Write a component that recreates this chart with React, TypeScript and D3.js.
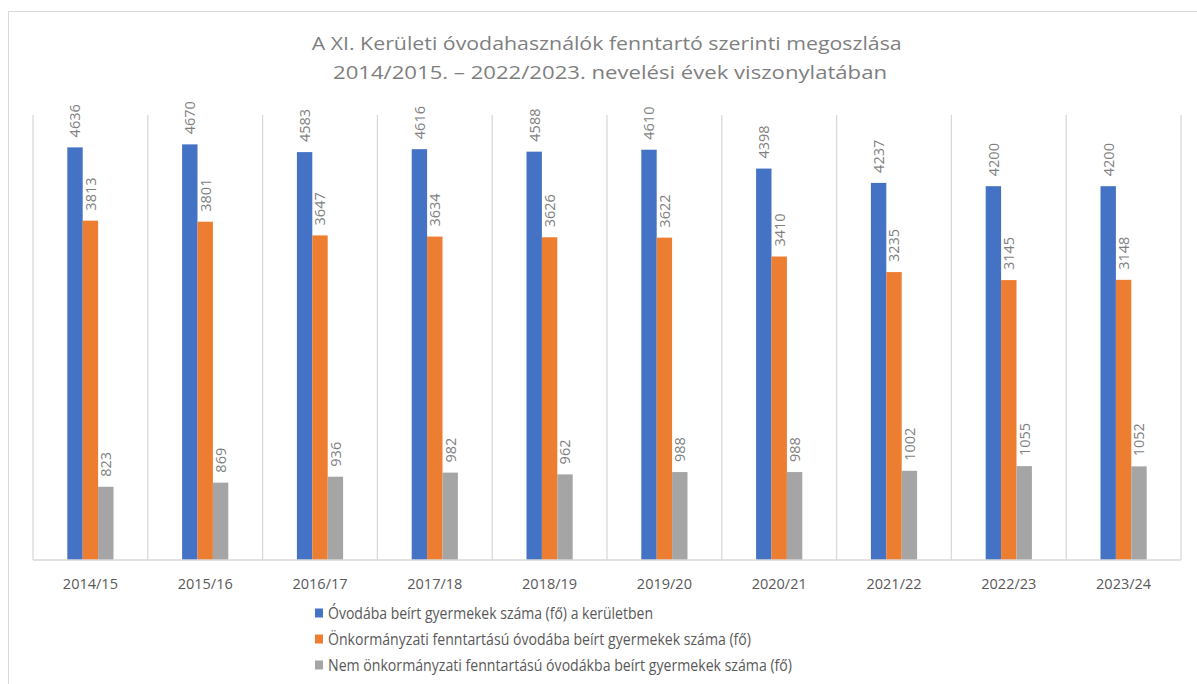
import React from "react";
import * as d3 from "d3";

const categories = ["2014/15", "2015/16", "2016/17", "2017/18", "2018/19", "2019/20", "2020/21", "2021/22", "2022/23", "2023/24"];
const totalValues = [4636, 4670, 4583, 4616, 4588, 4610, 4398, 4237, 4200, 4200];
const municipalValues = [3813, 3801, 3647, 3634, 3626, 3622, 3410, 3235, 3145, 3148];
const nonMunicipalValues = [823, 869, 936, 982, 962, 988, 988, 1002, 1055, 1052];
const seriesNames = [
  "Óvodába beírt gyermekek száma (fő) a kerületben",
  "Önkormányzati fenntartású óvodába beírt gyermekek száma (fő)",
  "Nem önkormányzati fenntartású óvodákba beírt gyermekek száma (fő)",
];
const seriesColors = ["#4472C4", "#ED7D31", "#A5A5A5"];
const titleLines = [
  "A XI. Kerületi óvodahasználók fenntartó szerinti megoszlása",
  "2014/2015. – 2022/2023. nevelési évek viszonylatában",
];

const W = 1197;
const H = 684;
const FONT = "'Open Sans', 'DejaVu Sans', sans-serif";

export default function App() {
  const series = [totalValues, municipalValues, nonMunicipalValues];
  const plotLeft = 33;
  const plotRight = 1181;
  const plotTop = 115;
  const plotBottom = 560;

  const x = d3.scaleBand<string>().domain(categories).range([plotLeft, plotRight]).paddingInner(0).paddingOuter(0);
  const barW = 15.4;
  const groupW = barW * 3;
  const y = d3.scaleLinear().domain([0, 5000]).range([plotBottom, plotTop]);

  const legendWidths = [325, 423, 464];
  const legendY = [613, 639, 665];
  const titleWidths = [590, 554];
  const titleBase = [50, 79];

  return (
    <svg width={W} height={H} style={{ position: "absolute", left: 0, top: 0, background: "#fff" }} fontFamily={FONT}>
      <rect x={8.5} y={11.5} width={W + 20} height={H + 20} fill="#fff" stroke="#d9d9d9" strokeWidth={1} />
      {titleLines.map((t, i) => (
        <text key={i} x={i === 0 ? 606.7 : 610} y={titleBase[i]} textAnchor="middle" fontSize={19} fill="#7f7f7f" textLength={titleWidths[i]} lengthAdjust="spacingAndGlyphs">
          {t}
        </text>
      ))}
      {/* category separators */}
      {categories.map((c) => (
        <line key={"g" + c} x1={x(c)!} x2={x(c)!} y1={plotTop} y2={plotBottom} stroke="#d9d9d9" strokeWidth={1.3} />
      ))}
      <line x1={plotRight} x2={plotRight} y1={plotTop} y2={plotBottom} stroke="#d9d9d9" strokeWidth={1.3} />
      {/* bars */}
      {categories.map((c, ci) => {
        const cx = x(c)! + x.bandwidth() / 2;
        const start = cx - groupW / 2;
        return (
          <g key={c}>
            {series.map((vals, si) => {
              const bx = start + si * barW;
              const by = y(vals[ci]);
              const lx = bx + barW / 2;
              const ly = by - 10;
              return (
                <g key={si}>
                  <rect x={bx} y={by} width={barW} height={plotBottom - by} fill={seriesColors[si]} />
                  <text x={lx} y={ly} transform={`rotate(-90 ${lx} ${ly})`} textAnchor="start" dominantBaseline="central" fontSize={14.5} fill="#7f7f7f">
                    {vals[ci]}
                  </text>
                </g>
              );
            })}
          </g>
        );
      })}
      {/* baseline */}
      <line x1={plotLeft} x2={plotRight} y1={plotBottom} y2={plotBottom} stroke="#d9d9d9" strokeWidth={1.3} />
      {/* x labels */}
      {categories.map((c) => (
        <text key={"t" + c} x={x(c)! + x.bandwidth() / 2} y={589} textAnchor="middle" fontSize={14.5} fill="#595959">
          {c}
        </text>
      ))}
      {/* legend */}
      {seriesNames.map((n, i) => (
        <g key={n}>
          <rect x={315} y={legendY[i] - 4.5} width={8} height={9} fill={seriesColors[i]} />
          <text x={328} y={legendY[i]} dominantBaseline="central" fontSize={15.5} fill="#595959" textLength={legendWidths[i]} lengthAdjust="spacingAndGlyphs">
            {n}
          </text>
        </g>
      ))}
    </svg>
  );
}
